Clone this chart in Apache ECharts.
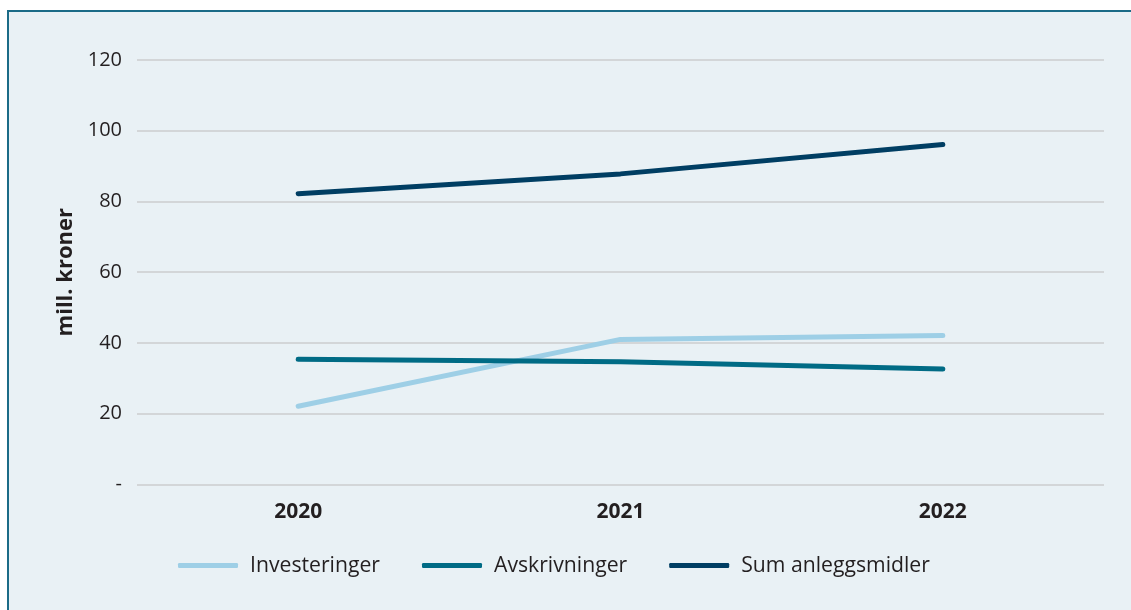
<!DOCTYPE html>
<html>
<head>
<meta charset="utf-8">
<script src="https://cdn.jsdelivr.net/npm/echarts@6/dist/echarts.min.js"></script>
<style>
html,body{margin:0;padding:0;background:#ffffff;}
#chart{width:1131px;height:610px;}
</style>
</head>
<body>
<div id="chart"></div>
<script>
const categories = ['2020', '2021', '2022'];
const investeringer = [22.1, 41.0, 42.1];
const avskrivninger = [35.4, 34.7, 32.6];
const sumAnleggsmidler = [82.2, 87.8, 96.1];
const seriesNames = ['Investeringer', 'Avskrivninger', 'Sum anleggsmidler'];
const yAxisName = 'mill. kroner';

const colors = ['#9ECFE6', '#006B85', '#003E63'];
const font = '"Open Sans", "Noto Sans", sans-serif';

const chart = echarts.init(document.getElementById('chart'), null, {renderer: 'canvas'});

function lineSeries(name, data, color) {
  return {
    name: name,
    type: 'line',
    data: data,
    showSymbol: false,
    symbol: 'none',
    lineStyle: {color: color, width: 5, cap: 'round', join: 'round'},
    itemStyle: {color: color},
    emphasis: {disabled: true}
  };
}

chart.setOption({
  animation: false,
  textStyle: {fontFamily: font},
  graphic: [{
    type: 'rect',
    z: -10,
    silent: true,
    shape: {x: 8, y: 11, width: 1200, height: 700},
    style: {fill: '#E9F1F5', stroke: '#1B6B87', lineWidth: 2}
  }],
  grid: {left: 137, right: 27, top: 60, bottom: 125.6, containLabel: false},
  legend: {
    left: 173,
    top: 550,
    itemWidth: 60,
    itemHeight: 5,
    itemGap: 42,
    icon: 'roundRect',
    textStyle: {fontFamily: font, fontSize: 21.2, color: '#231F20', padding: [0, 0, 0, 7]},
    data: seriesNames
  },
  xAxis: {
    type: 'category',
    data: categories,
    boundaryGap: true,
    axisLine: {show: false},
    axisTick: {show: false},
    axisLabel: {fontFamily: font, fontSize: 21, fontWeight: 'bold', color: '#231F20', margin: 17}
  },
  yAxis: {
    type: 'value',
    min: 0,
    max: 120,
    interval: 20,
    name: yAxisName,
    nameLocation: 'middle',
    nameGap: 59,
    nameRotate: 90,
    nameTextStyle: {fontFamily: font, fontSize: 22, fontWeight: 'bold', color: '#231F20'},
    axisLine: {show: false},
    axisTick: {show: false},
    axisLabel: {
      fontFamily: font, fontSize: 20, color: '#231F20', margin: 15,
      formatter: function (v) { return v === 0 ? '-' : String(v); }
    },
    splitLine: {lineStyle: {color: '#D3D6D8', width: 2}}
  },
  series: [
    lineSeries(seriesNames[0], investeringer, colors[0]),
    lineSeries(seriesNames[1], avskrivninger, colors[1]),
    lineSeries(seriesNames[2], sumAnleggsmidler, colors[2])
  ]
});
</script>
</body>
</html>
